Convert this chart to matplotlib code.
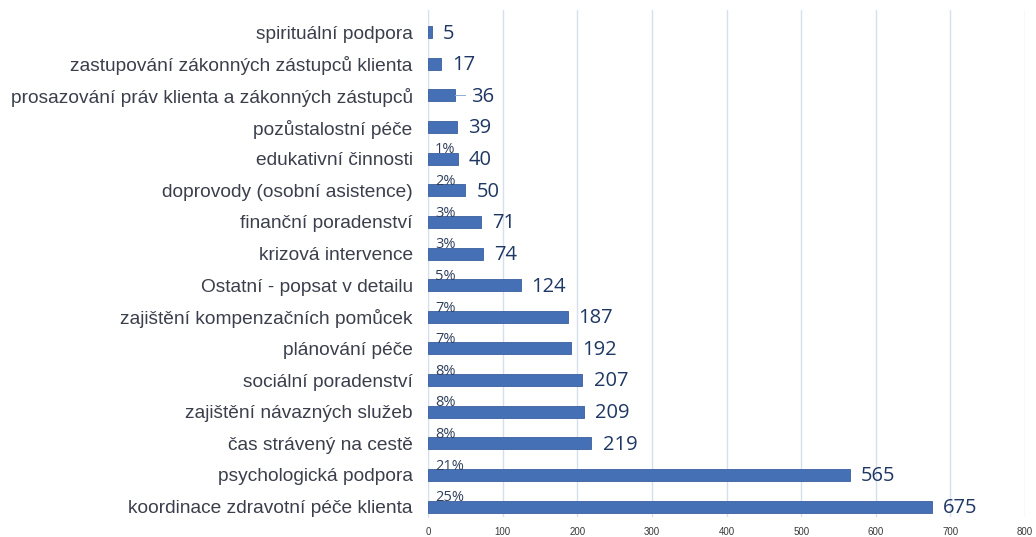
import matplotlib
matplotlib.use('Agg')
import matplotlib.pyplot as plt

# data, bottom to top as drawn
categories = ['koordinace zdravotní péče klienta', 'psychologická podpora',
              'čas strávený na cestě', 'zajištění návazných služeb',
              'sociální poradenství', 'plánování péče',
              'zajištění kompenzačních pomůcek', 'Ostatní - popsat v detailu',
              'krizová intervence', 'finanční poradenství',
              'doprovody (osobní asistence)', 'edukativní činnosti',
              'pozůstalostní péče', 'prosazování práv klienta a zákonných zástupců',
              'zastupování zákonných zástupců klienta', 'spirituální podpora']
values = [675, 565, 219, 209, 207, 192, 187, 124, 74, 71, 50, 40, 39, 36, 17, 5]
percents = ['25%', '21%', '8%', '8%', '8%', '7%', '7%', '5%', '3%', '3%', '2%', '1%',
            '', '', '', '']
xticks = [0, 100, 200, 300, 400, 500, 600, 700, 800]

fig = plt.figure(figsize=(10.36, 5.37), dpi=100)
ax = fig.add_axes([428 / 1036, 1 - 517 / 537, (1025 - 428) / 1036, 507 / 537])

y = range(len(categories))
ax.barh(y, values, height=0.38, color='#4670b5', edgecolor='#3a5f9e', linewidth=0.6, zorder=3)

ax.set_xlim(0, 800)
ax.set_ylim(-0.33, 15.7)
ax.set_xticks(xticks)
ax.set_xticklabels([str(t) for t in xticks], fontsize=7, color='#3a3a3a', family='Liberation Sans')
ax.set_yticks(list(y))
ax.set_yticklabels(categories, fontsize=13.8, color='#3b3f4c', family='Liberation Sans')
ax.tick_params(axis='both', length=0)
ax.tick_params(axis='y', pad=11)
ax.tick_params(axis='x', pad=7)

ax.grid(axis='x', color='#d5e0ee', linewidth=1, zorder=0)
for s in ['top', 'right', 'bottom']:
    ax.spines[s].set_visible(False)
ax.spines['left'].set_color('#d5e0ee')

for i, (v, p) in enumerate(zip(values, percents)):
    dx = 8
    if v == 36:
        # leader line to the label
        ax.plot([v, v + 13], [i, i], color='#8fa9d6', linewidth=0.7, zorder=4)
        dx = 12
    ax.annotate(str(v), (v, i), xytext=(dx, -1), textcoords='offset points',
                ha='left', va='center', fontsize=14.5, color='#1f3763', family='Open Sans')
    if p:
        ax.annotate(p, (0, i), xytext=(5, 3.8), textcoords='offset points',
                    ha='left', va='baseline', fontsize=10.5, color='#2f3f5c', family='Open Sans')

fig.savefig('out.png', dpi=100)
